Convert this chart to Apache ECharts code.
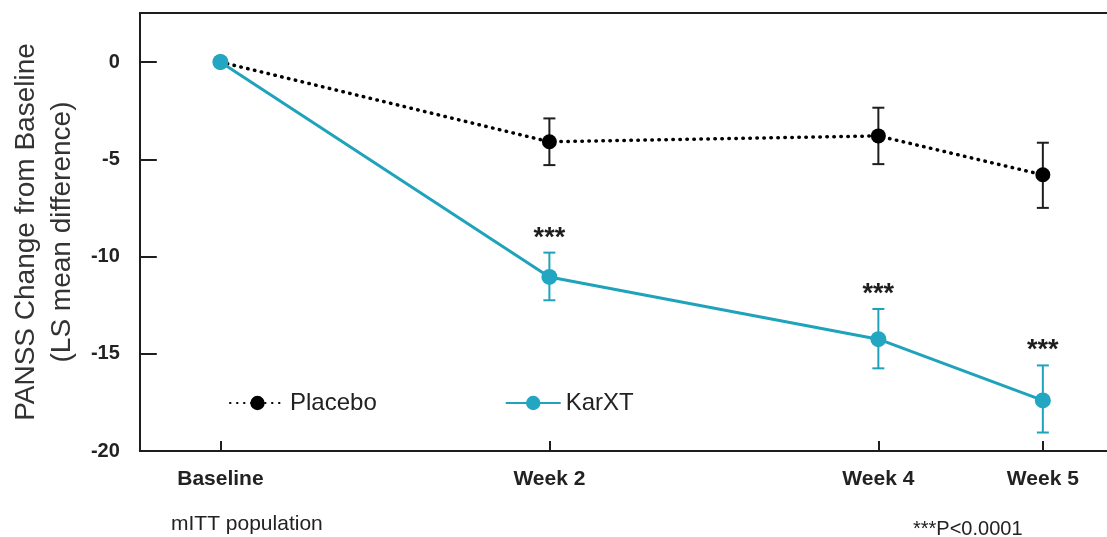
<!DOCTYPE html>
<html>
<head>
<meta charset="utf-8">
<script src="https://cdn.jsdelivr.net/npm/echarts@6/dist/echarts.min.js"></script>
<style>
  html, body { margin: 0; padding: 0; background: #fff; }
  #chart { width: 1107px; height: 537px; }
</style>
</head>
<body>
<div id="chart"></div>
<script>
// Study visits (weeks since baseline) and their axis labels
const weeks = [0, 2, 4, 5];
const weekLabels = ['Baseline', 'Week 2', 'Week 4', 'Week 5'];

// PANSS total score change from baseline (LS mean) with error-bar bounds
const placeboMean = [0, -4.1, -3.8, -5.8];
const placeboLow  = [null, -5.3, -5.25, -7.5];
const placeboHigh = [null, -2.9, -2.35, -4.15];

const karxtMean = [0, -11.05, -14.25, -17.4];
const karxtLow  = [null, -12.25, -15.75, -19.05];
const karxtHigh = [null, -9.8, -12.7, -15.6];

// Significance flags shown above the KarXT error bars
const karxtSig = ['', '***', '***', '***'];

const yTicks = [0, -5, -10, -15, -20];

const TEAL = '#1fa3bb';
const INK = '#1e1e1e';
const FONT = '"Liberation Sans", Arial, sans-serif';

function pairs(xs, ys) { return xs.map((x, i) => [x, ys[i]]); }
function errRows(low, high, sig) {
  const rows = [];
  weeks.forEach((w, i) => {
    if (low[i] != null) rows.push([w, low[i], high[i], sig ? sig[i] : '']);
  });
  return rows;
}

function errorBarRenderer(color) {
  return function (params, api) {
    const x = api.value(0);
    const lo = api.coord([x, api.value(1)]);
    const hi = api.coord([x, api.value(2)]);
    const half = 6;
    const style = { stroke: color, lineWidth: 2 };
    const children = [
      { type: 'line', shape: { x1: lo[0], y1: lo[1], x2: hi[0], y2: hi[1] }, style },
      { type: 'line', shape: { x1: hi[0] - half, y1: hi[1], x2: hi[0] + half, y2: hi[1] }, style },
      { type: 'line', shape: { x1: lo[0] - half, y1: lo[1], x2: lo[0] + half, y2: lo[1] }, style }
    ];
    const mark = api.value(3);
    if (mark) {
      children.push({
        type: 'text',
        style: {
          text: mark, x: hi[0], y: hi[1] - 1,
          align: 'center', verticalAlign: 'bottom',
          fill: INK, font: 'bold 27px ' + FONT
        }
      });
    }
    return { type: 'group', children };
  };
}

const chart = echarts.init(document.getElementById('chart'), null, { renderer: 'canvas' });

const xMin = -0.49, xMax = 5.39;

chart.setOption({
  animation: false,
  backgroundColor: '#fff',
  textStyle: { fontFamily: FONT },
  grid: { left: 137, right: 0, top: 13, bottom: 86, containLabel: false },
  title: [
    { text: 'mITT population', left: 166, top: 509,
      textStyle: { fontSize: 21, fontWeight: 'normal', color: '#222', fontFamily: FONT } },
    { text: '***P<0.0001', left: 908, top: 514,
      textStyle: { fontSize: 20, fontWeight: 'normal', color: '#222', fontFamily: FONT } }
  ],
  legend: {
    left: 224, top: 386,
    itemWidth: 55, itemHeight: 18, itemGap: 128,
    textStyle: { fontSize: 24, color: '#222', fontFamily: FONT },
    data: ['Placebo', 'KarXT']
  },
  xAxis: [
    {
      type: 'value', min: xMin, max: xMax,
      splitLine: { show: false },
      axisLine: { show: true, onZero: false, lineStyle: { color: INK, width: 2 } },
      axisTick: { show: true, inside: true, length: 10, customValues: weeks,
                  lineStyle: { color: INK, width: 2 } },
      axisLabel: {
        customValues: weeks, margin: 18,
        fontSize: 21, fontWeight: 'bold', color: '#222',
        formatter: v => weekLabels[weeks.indexOf(v)] || ''
      }
    },
    {
      type: 'value', position: 'top', min: xMin, max: xMax,
      splitLine: { show: false },
      axisLine: { show: true, onZero: false, lineStyle: { color: INK, width: 2 } },
      axisTick: { show: false }, axisLabel: { show: false }
    }
  ],
  yAxis: {
    type: 'value', min: -20, max: 2.52,
    splitLine: { show: false },
    axisLine: { show: true, onZero: false, lineStyle: { color: INK, width: 2 } },
    axisTick: { show: true, inside: true, length: 17, customValues: yTicks,
                lineStyle: { color: INK, width: 2 } },
    axisLabel: { customValues: yTicks, margin: 20, fontSize: 20, fontWeight: 'bold', color: '#222' },
    name: 'PANSS Change from Baseline\n(LS mean difference)',
    nameLocation: 'middle', nameGap: 58,
    nameTextStyle: { fontSize: 28, lineHeight: 36, color: '#333', fontFamily: FONT, align: 'center' }
  },
  series: [
    {
      name: 'Placebo-err', type: 'custom', z: 2,
      renderItem: errorBarRenderer(INK),
      data: errRows(placeboLow, placeboHigh, null)
    },
    {
      name: 'KarXT-err', type: 'custom', z: 2,
      renderItem: errorBarRenderer(TEAL),
      data: errRows(karxtLow, karxtHigh, karxtSig)
    },
    {
      name: 'Placebo', type: 'line', z: 3,
      data: pairs(weeks, placeboMean),
      symbol: 'circle', symbolSize: 15,
      itemStyle: { color: '#000' },
      lineStyle: { color: '#000', width: 3.5, type: [0.5, 6.5], cap: 'round' }
    },
    {
      name: 'KarXT', type: 'line', z: 4,
      data: pairs(weeks, karxtMean),
      symbol: 'circle', symbolSize: 16,
      itemStyle: { color: '#22a6c2' },
      lineStyle: { color: TEAL, width: 3 }
    }
  ]
});
</script>
</body>
</html>
